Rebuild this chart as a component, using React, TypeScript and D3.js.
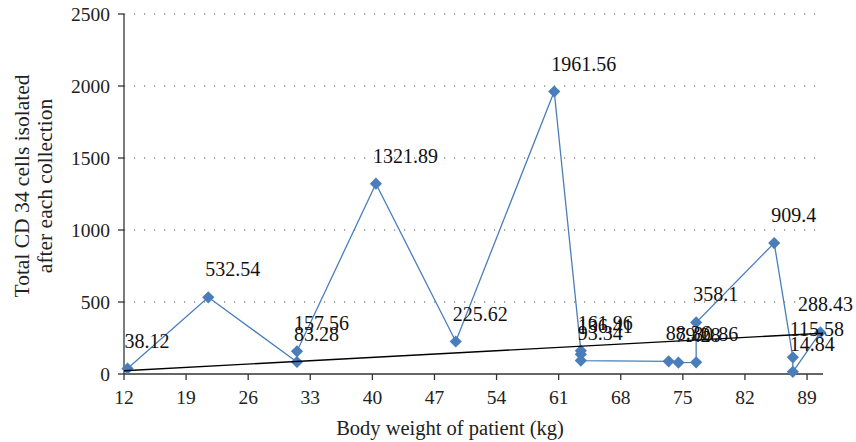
import React from "react";
import * as d3 from "d3";

// body weight (kg) of each collection, in plotted order
const weights = [12.4, 21.5, 31.5, 31.5, 40.4, 49.4, 60.5, 63.5, 63.5, 63.5, 73.4, 74.5, 76.5, 76.5, 85.3, 87.4, 87.4, 90.5];
// total CD34 cells isolated
const cd34 = [38.12, 532.54, 83.28, 157.56, 1321.89, 225.62, 1961.56, 161.96, 136.41, 93.34, 88.36, 79.28, 80.86, 358.1, 909.4, 115.58, 14.84, 288.43];

const xTicks = [12, 19, 26, 33, 40, 47, 54, 61, 68, 75, 82, 89];
const yTicks = [0, 500, 1000, 1500, 2000, 2500];

// linear trendline ends (kg, cells)
const trendX = [12, 90.8];
const trendY = [23, 283];

const W = 856;
const H = 442;
const BLUE = "#4a7ebb";
const FONT = "Liberation Serif, DejaVu Serif, serif";

export default function App() {
  const x = d3.scaleLinear().domain([12, 90.8]).range([124, 823]);
  const y = d3.scaleLinear().domain([0, 2500]).range([374, 14]);

  const pts: [number, number][] = weights.map((w, i) => [w, cd34[i]]);
  const line = d3.line<[number, number]>().x(d => x(d[0])).y(d => y(d[1]));
  const trend: [number, number][] = trendX.map((t, i) => [t, trendY[i]]);

  const diamond = d3.symbol().type(d3.symbolDiamond2).size(95)();

  return (
    <svg width={W} height={H} style={{ position: "absolute", left: 0, top: 0, background: "#fff", fontFamily: FONT }}>
      {/* gridlines */}
      {yTicks.filter(t => t > 0).map(t => (
        <line key={"g" + t} x1={x(12)} x2={823} y1={y(t)} y2={y(t)}
          stroke="#555" strokeWidth={1.2} strokeDasharray="1.2,8.8" />
      ))}

      {/* axes */}
      <line x1={x(12)} x2={x(12)} y1={y(0)} y2={y(2500)} stroke="#333" strokeWidth={1.3} />
      <line x1={x(12)} x2={823} y1={y(0)} y2={y(0)} stroke="#333" strokeWidth={1.3} />
      {yTicks.map(t => (
        <g key={"y" + t}>
          <line x1={x(12) - 6} x2={x(12)} y1={y(t)} y2={y(t)} stroke="#333" strokeWidth={1.3} />
          <text x={110} y={y(t)} dy="0.35em" textAnchor="end" fontSize={19.5} fill="#222">{t}</text>
        </g>
      ))}
      {xTicks.map(t => (
        <g key={"x" + t}>
          <line x1={x(t)} x2={x(t)} y1={y(0)} y2={y(0) + 6} stroke="#333" strokeWidth={1.3} />
          <text x={x(t)} y={404} textAnchor="middle" fontSize={19.5} fill="#222">{t}</text>
        </g>
      ))}

      {/* axis titles */}
      <text x={450} y={435} textAnchor="middle" fontSize={20.5} fill="#222">Body weight of patient (kg)</text>
      <g transform="translate(29,186) rotate(-90)">
        <text x={0} y={0} textAnchor="middle" fontSize={21.5} fill="#222">Total CD 34 cells isolated</text>
        <text x={0} y={23} textAnchor="middle" fontSize={21.5} fill="#222">after each collection</text>
      </g>

      {/* series */}
      <path d={line(pts) || ""} fill="none" stroke={BLUE} strokeWidth={1.3} />
      {pts.map((p, i) => (
        <path key={"m" + i} d={diamond || ""} transform={`translate(${x(p[0])},${y(p[1])})`} fill={BLUE} />
      ))}

      {/* trendline */}
      <path d={line(trend) || ""} fill="none" stroke="#000" strokeWidth={1.4} />

      {/* data labels */}
      {pts.map((p, i) => {
        const px = x(p[0]);
        const nearEdge = px > 805;
        return (
          <text key={"l" + i} x={nearEdge ? 853 : px - 3} y={y(p[1]) - 21}
            textAnchor={nearEdge ? "end" : "start"} fontSize={20} fill="#111">
            {p[1]}
          </text>
        );
      })}
    </svg>
  );
}
